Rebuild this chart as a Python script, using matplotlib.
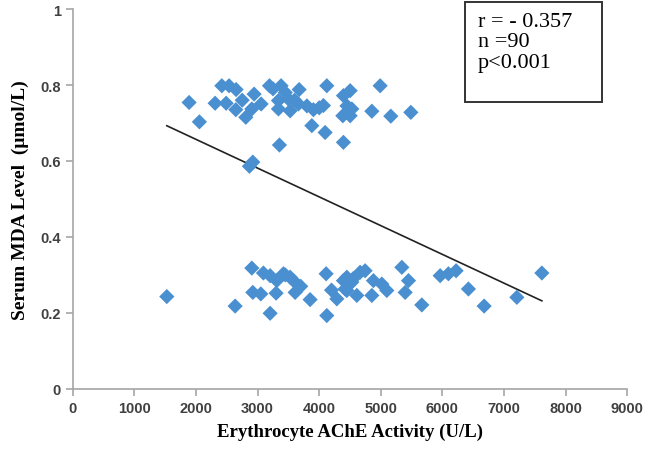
import numpy as np
import matplotlib
matplotlib.use('Agg')
import matplotlib.pyplot as plt
from matplotlib.patches import Rectangle

# erythrocyte AChE activity (U/L) and serum MDA (umol/L)
upper_ache = [1888, 2055, 2419, 2537, 2651, 2310, 2489, 2646, 2808, 2943,
              3057, 2906, 3192, 3381, 3674, 3338, 3500, 3662, 3528, 3338,
              3906, 4068, 4123, 4393, 3880, 4096, 4393, 3354, 2922, 2867,
              4383, 4502, 4989, 4529, 4502, 4854, 5162, 5487, 3450, 4000,
              3250, 3600, 2750, 4450, 3800]
upper_mda = [0.754, 0.703, 0.798, 0.798, 0.788, 0.752, 0.752, 0.735, 0.715, 0.776,
             0.750, 0.737, 0.798, 0.798, 0.788, 0.759, 0.763, 0.750, 0.732, 0.737,
             0.735, 0.746, 0.798, 0.772, 0.693, 0.675, 0.649, 0.642, 0.597, 0.586,
             0.719, 0.785, 0.798, 0.737, 0.719, 0.731, 0.718, 0.728, 0.780, 0.740,
             0.790, 0.760, 0.760, 0.745, 0.745]

lower_ache = [1526, 2635, 2906, 3094, 3203, 3311, 3419, 3528, 3582, 2922,
              3052, 3300, 3609, 3852, 3203, 4112, 4123, 4286, 4393, 4448,
              4448, 4420, 4529, 4664, 4745, 4610, 4854, 4880, 5016, 5097,
              5341, 5449, 5395, 5665, 5963, 6097, 6222, 6422, 6677, 7208,
              7614, 3450, 3700, 4200, 4550]
lower_mda = [0.243, 0.218, 0.318, 0.305, 0.298, 0.285, 0.303, 0.294, 0.285, 0.254,
             0.250, 0.252, 0.254, 0.235, 0.199, 0.303, 0.193, 0.237, 0.285, 0.259,
             0.294, 0.263, 0.281, 0.307, 0.311, 0.246, 0.246, 0.285, 0.276, 0.259,
             0.320, 0.285, 0.254, 0.221, 0.298, 0.303, 0.311, 0.263, 0.218, 0.241,
             0.305, 0.300, 0.270, 0.260, 0.290]

stats_text = 'r = - 0.357\nn =90\np<0.001'

ache = np.array(upper_ache + lower_ache)
mda = np.array(upper_mda + lower_mda)

fig = plt.figure(figsize=(6.5, 4.56), dpi=100)
ax = fig.add_axes([0.112, 0.145, 0.853, 0.833])

ax.scatter(ache, mda, marker='D', s=60, color='#4a8fd0', edgecolors='none', zorder=3)

# linear trend line
k, b = np.polyfit(ache, mda, 1)
xs = np.array([ache.min(), ache.max()])
ax.plot(xs, k * xs + b, color='#222222', lw=1.2, zorder=2)

ax.set_xlim(0, 9000)
ax.set_ylim(0, 1)
ax.set_xticks(np.arange(0, 9001, 1000))
ax.set_yticks([0, 0.2, 0.4, 0.6, 0.8, 1])
ax.set_yticklabels(['0', '0.2', '0.4', '0.6', '0.8', '1'])

for s in ['top', 'right']:
    ax.spines[s].set_visible(False)
for s in ['left', 'bottom']:
    ax.spines[s].set_color('#a6a6a6')
    ax.spines[s].set_linewidth(1.2)
ax.tick_params(colors='#a6a6a6', length=5, width=1.2, direction='out')
for lab in ax.get_xticklabels() + ax.get_yticklabels():
    lab.set_color('#404040')
    lab.set_fontweight('bold')
    lab.set_fontsize(10.5)
    lab.set_family('Liberation Sans')

ax.set_xlabel('Erythrocyte AChE Activity (U/L)', family='Liberation Serif',
              fontweight='bold', fontsize=13.5, labelpad=6)
ax.set_ylabel('Serum MDA Level  (\u03bcmol/L)', family='Liberation Serif',
              fontweight='bold', fontsize=14, labelpad=8)

# stats box
fig.patches.append(Rectangle((0.7154, 0.774), 0.2108, 0.219, transform=fig.transFigure,
                             facecolor='white', edgecolor='#333333', lw=1.4, zorder=5))
fig.text(0.735, 0.972, stats_text, family='Liberation Serif', fontsize=16,
         va='top', ha='left', linespacing=1.1, zorder=6)

fig.savefig('out.png', dpi=100)
